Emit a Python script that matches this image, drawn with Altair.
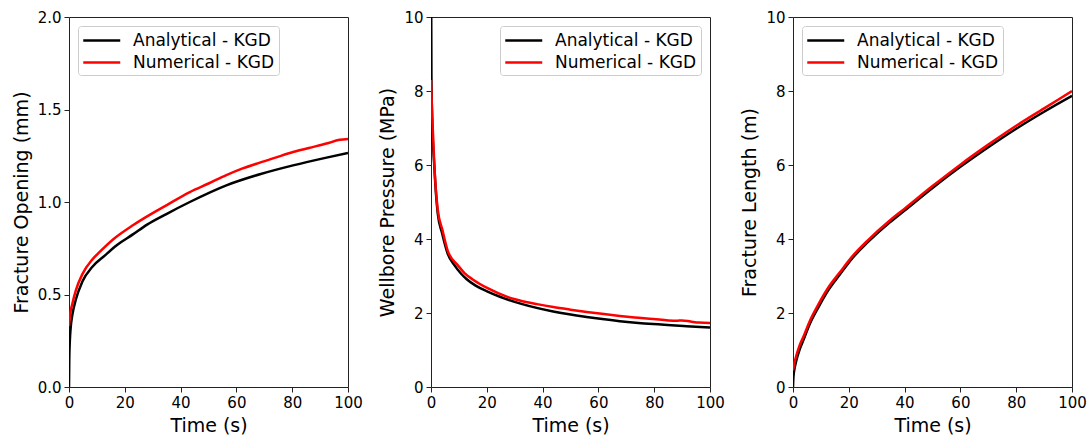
import altair as alt
import pandas as pd

SERIES = ["Analytical - KGD", "Numerical - KGD"]
COLORS = ["#000000", "#ff0000"]
X_TICKS = [0, 20, 40, 60, 80, 100]

# Panel 1: fracture opening (mm)
t_open_an = [0, 0.1, 0.3, 0.6, 1.2, 2.4, 4.8, 8.4, 12.8, 17, 22.9, 28, 34.9, 43.3, 56.4, 68.4, 80.3, 92.3, 100]
open_an = [0, 0.15, 0.25, 0.32, 0.39, 0.47, 0.57, 0.65, 0.71, 0.765, 0.825, 0.878, 0.935, 1.0, 1.09, 1.15, 1.198, 1.24, 1.265]
t_open_num = [0, 0.3, 1.2, 2.4, 4.8, 8.4, 11, 16, 22.9, 28, 34.9, 43.3, 50, 56.4, 62, 68.4, 74, 80.3, 86, 92.3, 97, 100]
open_num = [0.33, 0.38, 0.45, 0.52, 0.61, 0.69, 0.73, 0.80, 0.874, 0.922, 0.982, 1.054, 1.10, 1.145, 1.18, 1.213, 1.24, 1.27, 1.292, 1.316, 1.336, 1.341]

# Panel 2: wellbore pressure (MPa)
t_p_an = [0, 0.15, 0.4, 1.2, 2.4, 4.0, 6.0, 8.5, 10.8, 12.7, 16, 20.3, 24.7, 31.8, 43.8, 55.8, 67.7, 79.7, 91.6, 100]
p_an = [12.0, 8.4, 7.3, 5.95, 4.7, 4.15, 3.6, 3.28, 3.06, 2.92, 2.74, 2.58, 2.44, 2.26, 2.04, 1.89, 1.78, 1.70, 1.645, 1.61]
t_p_num = [0, 0.4, 1.2, 2.4, 4.1, 6.0, 9.7, 12, 15.1, 20.3, 27.6, 31.8, 38, 43.8, 50, 55.8, 62, 67.7, 73, 79.7, 85, 88, 90, 93, 96, 100]
p_num = [8.3, 7.4, 6.0, 4.8, 4.24, 3.68, 3.28, 3.08, 2.9, 2.67, 2.43, 2.34, 2.24, 2.16, 2.09, 2.03, 1.97, 1.92, 1.88, 1.84, 1.80, 1.79, 1.80, 1.77, 1.74, 1.73]

# Panel 3: fracture length (m)
t_l_an = [0, 0.1, 0.3, 0.6, 1.2, 2.4, 3.8, 6, 9, 12.5, 16.8, 21.5, 26.9, 34.7, 40, 50, 60, 70, 80, 90, 100]
l_an = [0, 0.2, 0.38, 0.52, 0.72, 1.02, 1.28, 1.7, 2.14, 2.6, 3.04, 3.5, 3.92, 4.45, 4.77, 5.38, 5.95, 6.48, 6.98, 7.44, 7.87]
t_l_num = [0, 0.6, 1.2, 2.4, 3.8, 6, 9, 12.5, 16.8, 21.5, 26.9, 34.7, 40, 50, 60, 70, 80, 90, 100]
l_num = [0.45, 0.68, 0.85, 1.13, 1.37, 1.78, 2.22, 2.67, 3.1, 3.55, 3.97, 4.5, 4.82, 5.43, 6.01, 6.55, 7.06, 7.53, 8.0]

FONT = "DejaVu Sans"


def frame(t_a, v_a, t_n, v_n):
    a = pd.DataFrame({"t": t_a, "v": v_a, "series": SERIES[0]})
    n = pd.DataFrame({"t": t_n, "v": v_n, "series": SERIES[1]})
    return pd.concat([a, n], ignore_index=True)


def panel(df, ytitle, ydomain, yticks, yfmt, orient):
    return alt.Chart(df).mark_line(strokeWidth=2.5, clip=True, interpolate="monotone").encode(
        x=alt.X("t:Q", scale=alt.Scale(domain=[0, 100], nice=False, zero=False),
                axis=alt.Axis(values=X_TICKS, title="Time (s)", format="d")),
        y=alt.Y("v:Q", scale=alt.Scale(domain=ydomain, nice=False),
                axis=alt.Axis(values=yticks, title=ytitle, format=yfmt)),
        color=alt.Color("series:N", scale=alt.Scale(domain=SERIES, range=COLORS),
                        legend=alt.Legend(orient=orient, offset=9, title=None,
                                          symbolType="M-1,0H3", symbolSize=342,
                                          symbolStrokeWidth=2.5, labelFontSize=17,
                                          labelFont=FONT, labelColor="black",
                                          labelOffset=30, rowPadding=3, padding=4,
                                          strokeColor="#cccccc", fillColor="white",
                                          cornerRadius=3)),
    ).properties(width=279, height=370)


p1 = panel(frame(t_open_an, open_an, t_open_num, open_num), "Fracture Opening (mm)",
           [0, 2], [0, 0.5, 1.0, 1.5, 2.0], ".1f", "top-left")
p2 = panel(frame(t_p_an, p_an, t_p_num, p_num), "Wellbore Pressure (MPa)",
           [0, 10], [0, 2, 4, 6, 8, 10], "d", "top-right")
p3 = panel(frame(t_l_an, l_an, t_l_num, l_num), "Fracture Length (m)",
           [0, 10], [0, 2, 4, 6, 8, 10], "d", "top-left")

chart = alt.hconcat(p1, p2, p3, spacing=83, bounds="flush").resolve_scale(
    color="independent", x="independent", y="independent"
).resolve_legend(color="independent").properties(
    padding={"left": 11, "top": 9, "right": 5, "bottom": 5},
    background="white"
).configure_view(
    stroke="#222222", strokeWidth=1
).configure_axis(
    grid=False, domain=False, ticks=True, tickSize=5, tickColor="#222222", tickWidth=1,
    labelFont=FONT, labelFontSize=15, labelColor="black", labelPadding=3,
    labelFlush=False, labelOverlap=False,
    titleFont=FONT, titleFontSize=19, titleFontWeight="normal", titleColor="black",
    titlePadding=6
)

chart.save("out.html", embed_options={"renderer": "svg", "actions": False})
